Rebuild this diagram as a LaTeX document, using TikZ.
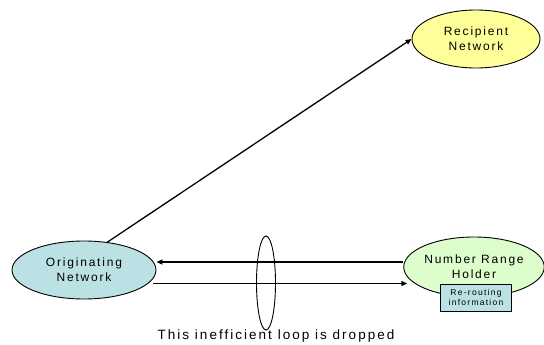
\documentclass[tikz,border=0pt]{standalone}
\usepackage{fontspec}
\setmainfont{Liberation Sans}[LetterSpace=15]
\usetikzlibrary{shapes.geometric,arrows.meta}

\definecolor{recipfill}{RGB}{255,255,153}
\definecolor{origfill}{RGB}{187,225,228}
\definecolor{holderfill}{RGB}{221,253,204}

\tikzset{
  net/.style={ellipse, draw, line width=0.9pt, inner sep=0pt, align=center,
    font=\fontsize{12}{15}\selectfont},
  flow/.style={line width=1.3pt, -{Triangle[length=6pt,width=5pt]}},
}

\begin{document}
\begin{tikzpicture}[x=1pt,y=1pt,yscale=-1,xscale=1]
\useasboundingbox (0,0) rectangle (544,345);

%Ellipses
    \node [net, fill=recipfill, minimum width=128, minimum height=58] (recip) at (476,39) {Recipient\\Network};
    \node [net, fill=origfill, minimum width=144, minimum height=58] (orig) at (84,270) {Originating\\Network};
    \node [net, fill=holderfill, minimum width=134, minimum height=60] (holder) at (474,267) {Number Range\\Holder};
%Box
    \node [draw, line width=0.7pt, fill=origfill, minimum width=71, minimum height=27, inner sep=0pt,
      align=center, font=\fontsize{8.5}{10}\selectfont] (reroute) at (476,297.5) {Re-routing\\information};
%Loop
    \node [ellipse, draw, line width=0.9pt, minimum width=19, minimum height=94, inner sep=0pt] (loop) at (266,283) {};

%Helper levels
    \coordinate (upper) at (0,262);
    \coordinate (lower) at (0,283.5);

%Straight Lines
    \draw [flow] (orig.50) -- (recip.west);
    \draw [flow] (holder.west |- upper) -- (orig.east |- upper);
    \draw [flow] ([xshift=-3]orig.east |- lower) -- ([xshift=4]holder.west |- lower);

% Text Node
    \node [font=\fontsize{13.5}{16}\selectfont] (dropped) at (276,336) {This inefficient loop is dropped};

\end{tikzpicture}
\end{document}
